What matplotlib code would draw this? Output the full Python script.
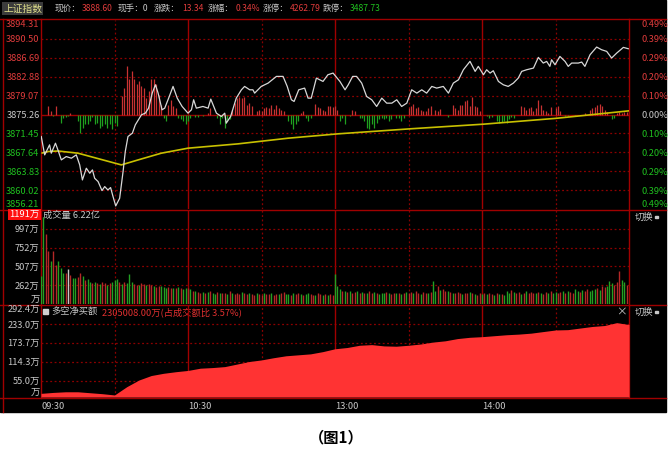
import matplotlib
matplotlib.use("Agg")
import matplotlib.pyplot as plt
import numpy as np

plt.rcParams['font.family'] = ['Noto Sans CJK SC', 'DejaVu Sans']

W, H = 669, 457

# ---- data ----
pre_close = 3875.26
price_levels = [3894.31, 3890.50, 3886.69, 3882.88, 3879.07, 3875.26,
                3871.45, 3867.64, 3863.83, 3860.02, 3856.21]
pct_labels = ["0.49%", "0.39%", "0.29%", "0.20%", "0.10%", "0.00%",
              "0.10%", "0.20%", "0.29%", "0.39%", "0.49%"]

# minute index (0 = 09:30, 240 = 15:00) and index price
price_t = [0.1, 1.5, 3.5, 4.2, 5.9, 6.9, 8.3, 10.3, 12.4, 14.4, 15.8, 16.9, 18.5, 19.9,
           21.0, 21.9, 23.3, 24.9, 26.0, 27.3, 28.4, 29.4, 30.5, 32.1, 33.5, 34.4, 35.5,
           37.3, 38.5, 41.0, 42.6, 43.9, 45.4, 46.7, 47.8, 49.4, 50.5, 52.1, 53.9, 55.6,
           57.6, 60.0, 61.4, 62.3, 63.4, 66.1, 68.2, 69.3, 71.6, 73.6, 75.0, 75.6, 77.4,
           79.7, 81.8, 83.1, 85.2, 86.5, 87.2, 89.9, 92.7, 96.1, 98.8, 100.5, 102.2, 103.3,
           105.2, 107.6, 109.0, 110.3, 112.4, 115.1, 117.1, 119.2, 122.0, 124.1, 125.4,
           127.2, 128.8, 130.9, 132.9, 135.0, 137.0, 139.1, 141.1, 143.2, 145.2, 147.2,
           149.3, 151.3, 153.4, 155.4, 157.4, 159.5, 161.5, 164.2, 166.3, 168.3, 170.4,
           172.4, 175.1, 177.2, 178.5, 180.6, 181.9, 183.3, 184.6, 186.7, 188.7, 190.7,
           192.8, 194.8, 196.2, 198.2, 201.0, 203.0, 205.0, 206.4, 207.7, 208.4, 209.8,
           211.8, 213.9, 215.2, 216.6, 219.3, 220.7, 222.0, 224.1, 226.8, 228.8, 230.9,
           232.9, 235.0, 237.7, 239.7]
price_v = [3870.82, 3867.12, 3869.14, 3867.46, 3869.47, 3868.13, 3866.11, 3866.78, 3866.45,
           3867.12, 3865.10, 3862.07, 3864.43, 3863.42, 3864.09, 3862.41, 3861.74, 3859.92,
           3860.73, 3860.05, 3860.53, 3858.71, 3856.83, 3858.37, 3863.76, 3867.79, 3870.82,
           3871.50, 3873.18, 3875.20, 3875.54, 3876.54, 3879.57, 3881.25, 3879.57, 3876.21,
           3876.54, 3878.56, 3880.92, 3878.56, 3876.88, 3875.53, 3876.21, 3878.23, 3876.54,
           3876.88, 3876.54, 3878.36, 3875.53, 3874.86, 3875.53, 3873.51, 3874.86, 3878.56,
           3880.24, 3880.92, 3880.24, 3880.24, 3879.57, 3880.92, 3881.59, 3882.94, 3882.94,
           3880.92, 3878.23, 3877.89, 3880.24, 3880.58, 3878.56, 3878.56, 3882.60, 3881.93,
           3883.27, 3883.61, 3881.93, 3880.24, 3881.25, 3882.94, 3882.94, 3881.59, 3878.90,
           3878.23, 3876.88, 3878.56, 3877.55, 3877.55, 3878.23, 3876.88, 3877.55, 3880.24,
           3879.57, 3880.24, 3879.57, 3880.92, 3880.58, 3880.92, 3879.57, 3881.59, 3882.26,
           3884.28, 3885.97, 3883.95, 3884.96, 3883.27, 3884.28, 3883.61, 3884.08, 3881.93,
           3881.25, 3880.92, 3881.59, 3882.60, 3883.95, 3884.28, 3884.62, 3886.77, 3885.63,
           3885.96, 3884.96, 3886.30, 3885.29, 3886.97, 3885.96, 3884.96, 3885.63, 3885.63,
           3885.83, 3884.96, 3887.31, 3888.86, 3888.32, 3887.98, 3886.64, 3887.65, 3888.79,
           3888.52]

avg_t = [0.5, 3.0, 7.0, 15.1, 32.8, 39.6, 49.1, 60.0, 80.4, 100.8, 121.2, 150.6, 180.6,
         210.5, 240.0]
avg_v = [3867.5, 3867.8, 3867.9, 3867.46, 3865.1, 3866.1, 3867.46, 3868.47, 3869.34,
         3870.48, 3871.36, 3872.37, 3873.31, 3874.5, 3876.0]

# red/green bars around the previous close (index points)
flow_bars = [0, 0, 0, 1.7, 0.7, -0.4, 1.7, 0, -1.7, -0.7,
             -0.5, -0.3, 0.3, 0, 0, -1.3, -3.7, -2.7, -2.0, -2.0,
             -1.3, -0.5, -2.0, -1.7, -2.7, -2.4, -2.0, -2.7, -2.0, -3.0,
             -1.7, -2.4, 0, 3.7, 5.4, 9.8, 7.1, 8.8, 7.1, 6.1,
             6.7, 5.7, 5.4, 3.4, 4.7, 7.1, 7.1, 6.1, 4.0, 2.0,
             -0.7, -1.3, 2.0, 3.0, 1.7, 1.3, -0.7, -1.0, -1.3, -2.0,
             -1.3, -0.7, 0, -0.5, -0.5, 0, -0.3, 0, 0.3, 1.3,
             0, 0, -0.7, -2.0, -0.7, -2.7, -1.3, -1.0, 1.0, 2.4,
             3.4, 3.5, 3.4, 3.6, 2.0, 2.4, 1.7, 0, 0.8, 1.0,
             0.8, 1.3, 1.5, 1.3, 1.9, 1.2, 1.9, 1.3, 1.0, 0.7,
             0, -1.3, -2.0, -3.0, -2.0, -1.3, 0.3, 0.7, -0.7, -1.3,
             -0.7, 0, 2.2, 1.5, 1.3, 1.0, 0.8, 1.7, 1.7, 1.5,
             1.7, 1.0, -1.3, -0.7, -2.0, 0, -0.3, 1.0, 0.8, 0,
             -0.7, -0.7, -1.3, -2.7, -3.0, -2.0, -2.7, -1.7, -1.0, -0.7,
             -1.0, -0.7, -1.3, -1.0, 0, -0.7, -0.7, -1.3, -0.7, 0,
             1.3, 1.7, 2.2, 1.3, 1.5, 1.0, 0.7, 0.7, 1.3, 1.7,
             0, 1.0, 0.8, 1.2, 0, 0, -0.5, 0, 1.9, 1.3,
             1.0, 1.9, 2.0, 2.8, 3.0, 1.7, 3.5, 1.7, 1.5, 0.7,
             0, 0, -0.3, -0.7, -0.5, 0, -1.3, -1.7, -1.5, -1.3,
             -1.7, -1.0, -0.5, -0.7, 0, 0, 1.7, 1.5, 1.0, 1.3,
             1.5, 0.7, 1.3, 3.0, 1.9, 1.0, 0.7, 0.3, 1.5, 0,
             1.3, 1.7, 0.7, 0, -0.3, -0.3, 0, 0, -0.3, 0,
             0, 0, 0.3, 0, 1.0, 1.3, 1.5, 1.9, 2.2, 1.7,
             1.0, 0.5, 0, -1.0, -0.7, 0.3, 0.5, 0.3, 0.5, 0.5,
             0.7]

# volume per minute (万)
volume = [380, 1150, 926, 706, 574, 706, 520, 574, 487, 421,
          421, 478, 399, 355, 355, 369, 421, 377, 330, 340,
          300, 290, 310, 295, 280, 300, 285, 270, 290, 300,
          330, 348, 300, 280, 310, 290, 408, 300, 280, 260,
          270, 290, 280, 260, 275, 265, 250, 240, 255, 250,
          235, 230, 240, 225, 230, 220, 235, 225, 215, 230,
          220, 215, 180, 190, 170, 165, 175, 160, 170, 180,
          165, 150, 170, 160, 155, 165, 150, 180, 160, 150,
          160, 150, 170, 155, 145, 160, 150, 140, 165, 150,
          140, 155, 145, 150, 160, 140, 150, 145, 155, 170,
          150, 145, 140, 160, 150, 155, 145, 140, 150, 160,
          150, 140, 130, 155, 145, 140, 150, 135, 145, 140,
          408, 250, 210, 190, 180, 175, 190, 160, 170, 180,
          165, 170, 160, 155, 180, 165, 170, 160, 150, 165,
          155, 170, 160, 150, 165, 160, 155, 145, 160, 170,
          160, 175, 165, 180, 160, 150, 170, 160, 165, 175,
          311, 190, 250, 200, 210, 180, 190, 170, 165, 160,
          175, 160, 150, 165, 155, 170, 160, 150, 140, 155,
          150, 165, 145, 160, 150, 140, 155, 145, 150, 140,
          180, 165, 200, 175, 160, 170, 150, 165, 185, 160,
          170, 160, 155, 175, 165, 150, 170, 160, 180, 165,
          170, 160, 175, 190, 165, 180, 170, 160, 210, 185,
          175, 200, 190, 210, 180, 195, 215, 230, 205, 250,
          240, 255, 320, 290, 270, 300, 443, 330, 300, 260,
          30]
vol_dir = ("ggrrgrrggg" "rwrggrrgrg" "grgrgrrgrg" "ggrgrgggrr" "grrgrrgrrg"
           "ggrrgrgrgg" "rgrgrrgrgr" "ggrgrrgrgr" "rrgrrgrrgr" "rgrrgrrgrr"
           "ggrgrrgrgg" "rrgrrgrgrr" "gggrgrgrrg" "rgrgrrgrgg" "grgrrgrgrg"
           "rrgrrgrrgr" "ggrgrrgrgr" "rrgrrgrgrr" "grgrrgrgrg" "ggrgrrgrgr"
           "rrgrgrrgrg" "grrgrgrrgg" "rgrrgggrgr" "rgggrrrggr" "r")
vol_ticks = [17, 262, 507, 752, 997, 1242]
vol_labels = ["万", "262万", "507万", "752万", "997万", "1191万"]

# net buy (多空净买额, 万) every 5 minutes
net_t = list(range(0, 241, 5))
net_v = [15, 18, 20, 20, 17, 14, 10, 36, 57, 71, 78, 83, 87, 94, 96, 99, 107, 115, 120,
         127, 133, 136, 139, 146, 155, 159, 166, 168, 164, 163, 166, 170, 176, 180, 187,
         191, 193, 196, 199, 201, 204, 209, 214, 215, 220, 225, 228, 237, 231]
net_ticks = [3.6, 55.0, 114.3, 173.7, 233.0, 292.4]
net_labels = ["万", "55.0万", "114.3万", "173.7万", "233.0万", "292.4万"]

time_ticks = [0, 60, 120, 180]
time_labels = ["09:30", "10:30", "13:00", "14:00"]

# ---- style ----
FRAME = '#a00000'
GRID = '#8c0000'
RED = '#e03c3c'
GREEN = '#1fbf1f'
TXT = '#c8c8c8'
FS = 6.7
FS_HEAD = 6.2


def px_axes(x0, y0, x1, y1, **kw):
    return fig.add_axes([x0 / W, 1 - y1 / H, (x1 - x0) / W, (y1 - y0) / H], **kw)


def style_panel(ax):
    ax.set_facecolor('none')
    for s in ax.spines.values():
        s.set_visible(False)
    ax.set_xlim(0, 240)
    ax.tick_params(axis='both', length=0, labelsize=FS, colors=TXT, pad=1.0)
    ax.set_xticks([])
    for m in [30, 90, 150, 210]:
        ax.axvline(m, color=GRID, lw=0.9, ls=(0, (1.5, 2)))
    for m in [60, 120, 180]:
        ax.axvline(m, color=FRAME, lw=1.0)


fig = plt.figure(figsize=(W / 100, H / 100), dpi=100, facecolor='white')

# background and frame
bg = fig.add_axes([0, 0, 1, 1])
bg.set_xlim(0, W)
bg.set_ylim(H, 0)
bg.axis('off')
bg.add_patch(plt.Rectangle((0, 0), 666, 412, color='black', zorder=0))
for y in [19, 210, 304.5, 397.5]:
    bg.plot([0, 666], [y, y], color=FRAME, lw=1.0, zorder=1)
bg.plot([3, 3], [19, 412], color=FRAME, lw=1.0, zorder=1)
bg.plot([41, 41], [19, 397.5], color=FRAME, lw=1.0, zorder=1)
bg.plot([629, 629], [19, 397.5], color=FRAME, lw=1.0, zorder=1)

# header
bg.text(3, 8.5, "上证指数", color='#e0e08c', fontsize=FS_HEAD + 0.8, va='center', ha='left',
        bbox=dict(boxstyle='square,pad=0.15', fc='#3c3c3c', ec='none'), zorder=3)
header = [(55, "现价：", TXT), (82, "3888.60", RED), (118, "现手：0", TXT),
          (154, "涨跌：", TXT), (182, "13.34", RED), (208, "涨幅：", TXT),
          (236, "0.34%", RED), (263, "涨停：", TXT), (290, "4262.79", RED),
          (323, "跌停：", TXT), (350, "3487.73", GREEN)]
for x, s, c in header:
    bg.text(x, 8.5, s, color=c, fontsize=FS_HEAD, va='center', ha='left', zorder=3)

# ---- main price panel ----
ax1 = px_axes(41, 20, 629, 209)
style_panel(ax1)
ax1.set_ylim(price_levels[-1], price_levels[0])
for p in price_levels[1:-1]:
    if p != pre_close:
        ax1.axhline(p, color=GRID, lw=0.9, ls=(0, (1.5, 2)))
ax1.axhline(pre_close, color=FRAME, lw=1.0)
minutes = np.arange(len(flow_bars))
fb = np.array(flow_bars)
ax1.vlines(minutes[fb > 0], pre_close, pre_close + fb[fb > 0], color='#c83232', lw=0.9)
ax1.vlines(minutes[fb < 0], pre_close, pre_close + fb[fb < 0], color='#1fa01f', lw=0.9)
ax1.plot(avg_t, avg_v, color='#c8c000', lw=1.2)
ax1.plot(price_t, price_v, color='#d8d8d8', lw=0.9)
ax1.set_yticks(price_levels)
ax1.set_yticklabels([f"{p:.2f}" for p in price_levels])
for i, lab in enumerate(ax1.get_yticklabels()):
    p = price_levels[i]
    lab.set_color(RED if p > pre_close else (TXT if p == pre_close else GREEN))
    if i == 0:
        lab.set_va('top')
    if i == len(price_levels) - 1:
        lab.set_va('bottom')
ax1r = ax1.twinx()
ax1r.set_ylim(ax1.get_ylim())
for s in ax1r.spines.values():
    s.set_visible(False)
ax1r.set_yticks(price_levels)
ax1r.set_yticklabels(pct_labels)
ax1r.tick_params(axis='y', length=0, labelsize=FS, pad=9)
for i, lab in enumerate(ax1r.get_yticklabels()):
    p = price_levels[i]
    lab.set_color(RED if p > pre_close else (TXT if p == pre_close else GREEN))
    if i == 0:
        lab.set_va('top')
    if i == len(price_levels) - 1:
        lab.set_va('bottom')

# ---- volume panel ----
ax2 = px_axes(41, 210, 629, 304)
style_panel(ax2)
ax2.set_ylim(vol_ticks[0], vol_ticks[-1])
for v in vol_ticks[1:-1]:
    ax2.axhline(v, color=GRID, lw=0.9, ls=(0, (1.5, 2)))
vcol = {'r': '#b42828', 'g': '#23a023', 'w': '#c8c8c8'}
ax2.vlines(np.arange(len(volume)), vol_ticks[0], volume,
           colors=[vcol[c] for c in vol_dir[:len(volume)]], lw=1.0)
ax2.set_yticks(vol_ticks)
ax2.set_yticklabels(vol_labels)
labs = ax2.get_yticklabels()
labs[0].set_va('bottom')
labs[-1].set_va('top')
labs[-1].set_color('white')
labs[-1].set_bbox(dict(boxstyle='square,pad=0.12', fc='#ff1010', ec='none'))
bg.text(43, 215, "成交量 6.22亿", color=TXT, fontsize=FS, va='center', ha='left', zorder=3)
bg.text(635, 217, "切换", color=TXT, fontsize=FS, va='center', ha='left', zorder=3)
bg.add_patch(plt.Rectangle((655, 215.5), 2.5, 2.5, color=TXT, zorder=3))

# ---- net buy panel ----
ax3 = px_axes(41, 305, 629, 397)
style_panel(ax3)
ax3.set_ylim(net_ticks[0], net_ticks[-1])
for v in net_ticks[1:-1]:
    ax3.axhline(v, color=GRID, lw=0.9, ls=(0, (1.5, 2)), zorder=0.5)
ax3.fill_between(net_t, net_ticks[0], net_v, color='#ff3333', lw=0, zorder=2)
ax3.set_yticks(net_ticks)
ax3.set_yticklabels(net_labels)
labs = ax3.get_yticklabels()
labs[0].set_va('bottom')
labs[-1].set_va('top')
ax3.set_xticks(time_ticks)
ax3.set_xticklabels(time_labels, ha='left')
ax3.tick_params(axis='x', pad=3.5)
bg.add_patch(plt.Rectangle((43, 309), 4.5, 5, color='#d0d0d0', zorder=3))
bg.text(51, 312, "多空净买额", color=TXT, fontsize=FS, va='center', ha='left', zorder=3)
bg.text(102, 312, "2305008.00万(占成交额比 3.57%)", color='#e03030', fontsize=FS,
        va='center', ha='left', zorder=3)
bg.text(621, 312, "×", color=TXT, fontsize=FS + 1, va='center', ha='center', zorder=3)
bg.text(635, 312, "切换", color=TXT, fontsize=FS, va='center', ha='left', zorder=3)
bg.add_patch(plt.Rectangle((655, 310.5), 2.5, 2.5, color=TXT, zorder=3))

# caption
fig.text(336 / W, 1 - 437 / H, "（图1）", color='black', fontsize=11, fontweight='bold',
         ha='center', va='center')

fig.savefig("out.png", dpi=100, facecolor='white')
